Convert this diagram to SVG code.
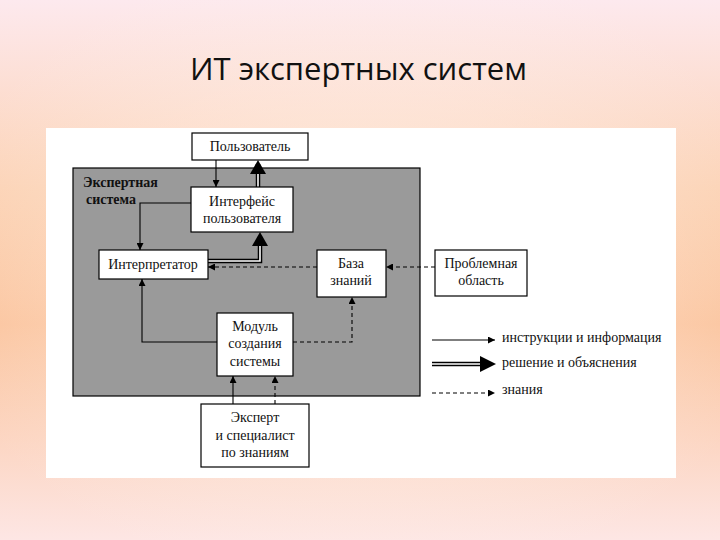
<svg xmlns="http://www.w3.org/2000/svg" width="720" height="540" viewBox="0 0 720 540">
<defs>
<linearGradient id="bg" x1="0" y1="0" x2="0" y2="1">
<stop offset="0" stop-color="#fde9ee"/><stop offset="0.35" stop-color="#fcd2b4"/><stop offset="0.6" stop-color="#fbc39c"/><stop offset="1" stop-color="#fde6e4"/>
</linearGradient>
<radialGradient id="bg2" cx="0.5" cy="0.5" r="0.6">
<stop offset="0" stop-color="#fff3ea" stop-opacity="0.7"/><stop offset="1" stop-color="#fff3ea" stop-opacity="0"/>
</radialGradient>
<marker id="a" viewBox="0 0 10 10" refX="10" refY="5" markerWidth="7" markerHeight="7" markerUnits="userSpaceOnUse" orient="auto"><path d="M0,0L10,5L0,10z" fill="#000"/></marker>
</defs>
<style>
.n{fill:#fff;stroke:#000;stroke-width:1.2}
.t{font-family:'Liberation Serif','Times New Roman',serif;font-size:14px;fill:#111;text-anchor:middle}
.s{fill:none;stroke:#000;stroke-width:1.1}
.d{fill:none;stroke:#000;stroke-width:1.1;stroke-dasharray:4,3}
.w{fill:none;stroke:#000;stroke-width:4.5}
.wi{fill:none;stroke:#fff;stroke-width:1.6}
</style>
<rect width="720" height="540" fill="url(#bg)"/>
<rect width="720" height="540" fill="url(#bg2)"/>
<text x="190" y="80" font-family="'Open Sans','DejaVu Sans',sans-serif" font-size="31" fill="#111">ИТ экспертных систем</text>
<rect x="46" y="128" width="630" height="350" fill="#fff"/>
<g id="system"><rect x="73" y="168" width="347" height="228" fill="#9a9a9a" stroke="#000" stroke-width="1.2"/>
<text x="83" y="187" font-family="'Liberation Serif',serif" font-size="14" font-weight="bold" fill="#111">Экспертная</text>
<text x="86" y="204" font-family="'Liberation Serif',serif" font-size="14" font-weight="bold" fill="#111">система</text></g>
<g id="connectors">
<path class="s" d="M216,160V187" marker-end="url(#a)"/>
<path class="w" d="M258,187V164"/><path class="wi" d="M258,187V166"/>
<path d="M250,174L258,160L266,174z"/>
<path class="s" d="M191,203H140V250" marker-end="url(#a)"/>
<path class="w" d="M208,261H260V238"/><path class="wi" d="M208,261H260V240"/>
<path d="M252,246L260,232L268,246z"/>
<path class="d" d="M317,267H208" marker-end="url(#a)"/>
<path class="d" d="M435,267H386" marker-end="url(#a)"/>
<path class="d" d="M293,342H352V297" marker-end="url(#a)"/>
<path class="s" d="M217,342H142V279" marker-end="url(#a)"/>
<path class="s" d="M233,404V376" marker-end="url(#a)"/>
<path class="d" d="M275,404V376" marker-end="url(#a)"/>
</g>
<g id="user"><rect class="n" x="192" y="133" width="116" height="27"/><text class="t" x="250" y="151">Пользователь</text></g>
<g id="iface"><rect class="n" x="191" y="187" width="102" height="45"/><text class="t" x="242" y="206">Интерфейс</text><text class="t" x="242" y="223">пользователя</text></g>
<g id="interp"><rect class="n" x="99" y="250" width="109" height="29"/><text class="t" x="153" y="269">Интерпретатор</text></g>
<g id="kb"><rect class="n" x="317" y="250" width="69" height="47"/><text class="t" x="351" y="268">База</text><text class="t" x="351" y="285">знаний</text></g>
<g id="domain"><rect class="n" x="435" y="250" width="92" height="46"/><text class="t" x="481" y="268">Проблемная</text><text class="t" x="481" y="285">область</text></g>
<g id="module"><rect class="n" x="217" y="313" width="76" height="63"/><text class="t" x="255" y="331">Модуль</text><text class="t" x="255" y="348">создания</text><text class="t" x="255" y="366">системы</text></g>
<g id="expert"><rect class="n" x="201" y="404" width="108" height="63"/><text class="t" x="255" y="422">Эксперт</text><text class="t" x="255" y="440">и специалист</text><text class="t" x="255" y="457">по знаниям</text></g>
<g id="legend">
<path class="s" d="M432,340H495" marker-end="url(#a)"/>
<path class="w" d="M432,364H484"/><path class="wi" d="M432,364H484"/><path d="M480,356L496,364L480,372z"/>
<path class="d" d="M432,393H495" marker-end="url(#a)"/>
<g font-family="'Liberation Serif',serif" font-size="14" fill="#111"><text x="502" y="342">инструкции и информация</text><text x="502" y="367">решение и объяснения</text><text x="502" y="394">знания</text></g>
</g>
</svg>
